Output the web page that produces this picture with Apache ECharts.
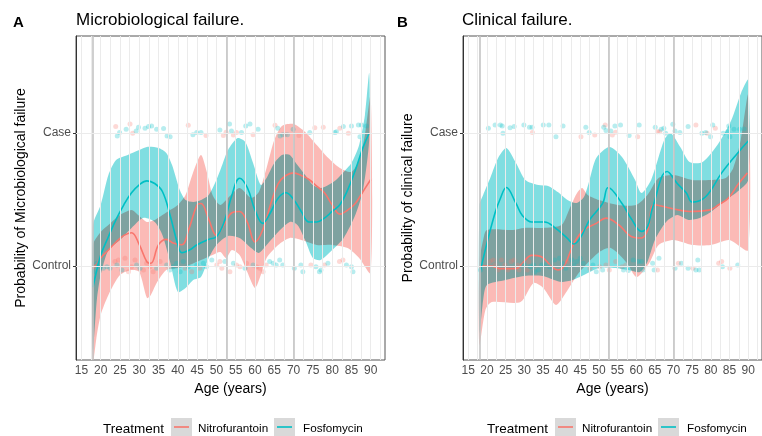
<!DOCTYPE html>
<html><head><meta charset="utf-8">
<script src="https://cdn.jsdelivr.net/npm/echarts@6/dist/echarts.min.js"></script>
<style>html,body{margin:0;padding:0;background:#fff}#c{width:762px;height:436px}</style>
</head><body><div id="c"></div>
<script>
// ---------- data ----------
const xTicks = [15,20,25,30,35,40,45,50,55,60,65,70,75,80,85,90];
const minorGrid = [15,17.5,20,22.5,25,27.5,30,32.5,35,37.5,40,42.5,45,47.5,50,52.5,55,57.5,60,62.5,65,67.5,70,72.5,75,77.5,80,82.5,85,87.5,90,92.5];
const refLines = [18,52.7,70];
const yTickValues = [0,1];
const yTickLabels = ['Control','Case'];
const treatments = ['Nitrofurantoin','Fosfomycin'];

// Panel A: microbiological failure
const A_nitro_line = [[18,-0.02],[20,0.06],[22,0.12],[24,0.18],[26,0.23],[28,0.25],[30,0.16],[32,0.03],[33,0.02],[35,0.16],[37,0.20],[39,0.17],[41,0.16],[43,0.29],[45,0.46],[46,0.47],[48,0.35],[50,0.23],[52,0.31],[54,0.40],[56,0.41],[58,0.33],[60,0.18],[62,0.27],[64,0.46],[66,0.62],[68,0.68],[70,0.70],[72,0.68],[74,0.65],[76,0.60],[78,0.55],[80,0.46],[82,0.39],[84,0.42],[86,0.47],[88,0.56],[90,0.65]];
const A_fosfo_line = [[18,-0.16],[19,-0.03],[20,0.08],[22,0.22],[24,0.35],[26,0.46],[28,0.55],[30,0.61],[32,0.64],[34,0.62],[36,0.56],[38,0.38],[40,0.16],[41,0.10],[43,0.12],[45,0.16],[48,0.20],[50,0.22],[52,0.33],[54,0.53],[56,0.66],[58,0.59],[60,0.42],[62,0.32],[64,0.40],[66,0.51],[68,0.55],[70,0.50],[72,0.41],[74,0.33],[76,0.33],[78,0.36],[80,0.41],[82,0.46],[84,0.57],[86,0.72],[88,0.89],[89.6,1.0]];
const A_nitro_upper = [[18,0.158],[20,0.256],[22,0.308],[25,0.383],[28,0.421],[30,0.376],[32,0.331],[34,0.346],[36,0.383],[38,0.421],[40,0.459],[42,0.534],[44,0.707],[46,0.835],[47.5,0.707],[49,0.534],[51,0.459],[53,0.511],[56,0.586],[59,0.511],[61,0.556],[63,0.737],[65,0.947],[67,1.053],[70,1.068],[73,1.008],[76,0.910],[79,0.812],[82,0.737],[85,0.707],[87,0.797],[88.5,0.985],[90,1.286]];
const A_nitro_lower = [[18,-0.722],[19,-0.519],[20,-0.368],[22,-0.218],[25,-0.068],[28,-0.030],[30,-0.045],[32,-0.241],[33,-0.218],[34.5,-0.128],[37,-0.030],[40,-0.015],[43,0.008],[46,0.045],[49,0.083],[51,0.105],[52.5,0.060],[54,0.120],[56,0.083],[58,-0.045],[60,-0.165],[61.5,-0.068],[63,0.060],[66,0.158],[69,0.211],[72,0.195],[76,0.158],[80,0.158],[84,0.135],[87,0.060],[90,-0.053]];
const A_fosfo_upper = [[18,0.308],[20,0.459],[22,0.684],[24,0.797],[27,0.835],[30,0.872],[32,0.895],[35,0.887],[37,0.850],[38.5,0.759],[40.5,0.571],[42,0.496],[44,0.481],[46,0.496],[48,0.534],[50,0.647],[51.5,0.759],[53,0.872],[55.5,0.962],[57.5,0.932],[59.5,0.774],[61.5,0.609],[63,0.662],[65,0.774],[67,0.835],[69,0.835],[71,0.759],[73,0.684],[75,0.609],[77,0.586],[79,0.609],[81,0.647],[83,0.707],[85,0.774],[87,0.910],[88.5,1.135],[89.6,1.451]];
const A_fosfo_lower = [[18,-0.632],[19,-0.256],[20,-0.068],[22,0.120],[25,0.195],[28,0.286],[31,0.361],[34,0.331],[36,0.233],[38,0.030],[40,-0.195],[42,-0.165],[44,-0.105],[46,-0.083],[48,0.060],[50,0.158],[53,0.226],[56,0.211],[59,0.135],[61,0.098],[63,0.158],[66,0.256],[69,0.331],[71,0.308],[73,0.195],[75,0.060],[77,0.045],[80,0.120],[83,0.211],[86,0.383],[88,0.571],[89.6,0.947]];
const A_nitro_pts = [[23.9,1.048],[27.6,1.068],[28.3,0.997],[42.7,1.058],[47.3,0.98],[51.8,0.98],[52.5,1.005],[54.4,0.985],[55.2,1.003],[59.5,0.987],[65.2,1.058],[67.8,0.987],[71.4,0.98],[75.5,1.04],[77.7,1.043],[82.0,1.035],[84.2,0.997],
 [23.7,0.033],[24.6,0.045],[26.3,0.058],[27.2,-0.043],[28.0,-0.005],[28.9,0.045],[31.1,-0.03],[31.9,0.02],[32.8,-0.005],[33.6,-0.043],[35.4,0.033],[41.9,-0.018],[43.6,-0.043],[45.7,-0.018],[50.1,0.008],[50.9,0.033],[51.4,-0.018],[53.5,-0.043],[55.2,0.008],[56.1,-0.005],[57.8,0.02],[60.4,-0.005],[61.2,-0.018],[62.1,-0.043],[62.9,0.008],[74.5,0.008],[78.0,0.008],[81.9,0.033],[82.8,0.045]];
const A_fosfo_pts = [[24.3,0.977],[24.9,1.003],[26.6,1.028],[29.2,1.015],[29.8,1.043],[31.5,1.035],[32.4,1.048],[33.2,1.053],[34.5,1.028],[36.3,1.033],[37.2,0.977],[38.0,0.972],[43.9,0.987],[44.9,1.003],[46.0,1.003],[50.9,1.023],[53.4,1.068],[53.9,1.015],[56.5,1.003],[57.6,1.053],[58.7,1.068],[60.8,1.028],[65.9,1.035],[66.5,0.977],[67.2,0.987],[68.4,0.987],[69.9,1.028],[74.2,1.003],[80.7,1.003],[81.1,1.010],[82.9,1.048],[85.0,1.053],[86.8,1.06],[87.2,0.972],[87.6,1.06],[88.9,1.053],
 [18.1,-0.043],[19.0,0.02],[19.8,-0.005],[20.7,-0.018],[21.6,-0.005],[22.4,-0.018],[24.2,0.008],[25.5,-0.03],[29.3,0.008],[30.2,-0.018],[34.5,-0.018],[37.1,0.008],[37.9,-0.03],[38.8,-0.005],[39.7,0.02],[40.6,-0.043],[41.4,0.033],[42.7,-0.005],[44.9,0.008],[46.6,0.02],[47.4,-0.005],[48.8,0.045],[52.2,0.033],[54.4,0.02],[57.4,-0.018],[59.5,0.008],[63.8,0.033],[64.7,0.02],[65.5,0.008],[66.4,0.045],[67.2,0.008],[70.2,-0.018],[71.9,0.008],[72.4,-0.043],[75.8,-0.005],[76.7,-0.043],[77.1,-0.03],[78.9,0.02],[83.7,0.008],[85.0,-0.005],[85.4,-0.043]];

// Panel B: clinical failure
const B_nitro_line = [[18.3,0.0],[20.9,0.0],[23.5,-0.02],[27.8,-0.02],[29.5,0.02],[32,0.08],[34.6,0.07],[37.2,0.0],[39,-0.03],[40.7,0.0],[43.3,0.17],[45.9,0.27],[49.3,0.32],[51.9,0.36],[55.3,0.31],[58.8,0.22],[61.4,0.21],[63.1,0.27],[64.8,0.46],[68.3,0.44],[74.3,0.41],[79.5,0.42],[82.1,0.46],[84.7,0.51],[87.2,0.61],[89.8,0.70]];
const B_fosfo_line = [[18.3,-0.03],[20,0.17],[22.2,0.40],[23.5,0.50],[25.2,0.59],[27.8,0.47],[29.5,0.38],[32,0.33],[35.5,0.33],[38.1,0.29],[41.5,0.21],[43.3,0.165],[45,0.21],[47.6,0.35],[51,0.47],[52.5,0.59],[56.2,0.47],[58.8,0.35],[61.4,0.26],[63.1,0.30],[64.4,0.44],[68.3,0.71],[71,0.62],[73.4,0.55],[75,0.48],[78.6,0.52],[82.9,0.70],[87.2,0.85],[90,0.94]];
const B_nitro_upper = [[18,0.030],[19,0.195],[20,0.271],[27,0.271],[30,0.286],[35,0.286],[40,0.308],[42,0.421],[44,0.541],[45.5,0.586],[47,0.534],[50,0.496],[55,0.459],[60,0.459],[63,0.534],[66,0.662],[70,0.684],[75,0.647],[80,0.647],[84,0.662],[86,0.737],[88,0.947],[90,1.286]];
const B_nitro_lower = [[18,-0.594],[19.6,-0.331],[21.3,-0.271],[29,-0.271],[32.5,-0.128],[35.1,-0.165],[38.5,-0.293],[41.1,-0.203],[44.6,-0.053],[49.8,0.098],[53.2,0.135],[57.5,0.023],[60.1,-0.083],[63.5,0.023],[66,0.158],[70,0.195],[75,0.158],[80,0.158],[85,0.195],[90,0.120]];
const B_fosfo_upper = [[18,0.459],[19,0.534],[21,0.669],[23,0.812],[25.2,0.887],[27.8,0.774],[30.3,0.647],[33.8,0.609],[36.4,0.602],[39,0.556],[41.6,0.496],[44,0.474],[46,0.519],[47.5,0.647],[49.3,0.812],[52.8,0.895],[56.2,0.820],[59.7,0.647],[61.4,0.549],[64,0.647],[67.5,0.947],[69.2,1.0],[71.8,0.895],[74.3,0.782],[77.8,0.782],[82.1,0.925],[85.5,1.098],[88.1,1.301],[90,1.398]];
const B_fosfo_lower = [[18,-0.504],[19,-0.256],[20,-0.143],[25,-0.105],[30,-0.075],[35,-0.075],[38,-0.105],[40,-0.120],[43,-0.105],[46,-0.068],[50,-0.015],[54,-0.015],[58,-0.030],[61,-0.045],[63,0.030],[65,0.195],[68,0.331],[71,0.383],[74,0.346],[77,0.361],[80,0.406],[84,0.496],[87,0.556],[90,0.647]];
const B_nitro_pts = [[32.2,1.003],[45.2,0.972],[48.9,0.985],[51.7,1.06],[53.6,0.985],[54.5,1.005],[60.4,0.972],[65.7,1.010],[66.3,1.010],[76.0,1.06],[79.0,0.997],[81.2,1.035],
 [20.9,0.033],[21.7,0.045],[22.2,0.008],[23.0,-0.03],[23.9,0.045],[24.8,0.008],[25.6,-0.03],[26.5,0.033],[27.3,0.045],[28.2,0.008],[28.6,-0.03],[30.8,-0.03],[31.2,0.033],[41.5,0.033],[47.6,-0.018],[50.2,-0.005],[51.9,0.008],[52.8,-0.03],[54.5,0.033],[56.2,-0.005],[57.2,0.008],[65.7,-0.03],[71.3,0.02],[75.2,-0.018],[82.1,0.02],[82.9,0.033],[85.1,-0.018]];
const B_fosfo_pts = [[20.4,1.035],[22.2,1.06],[23.6,1.06],[24.1,1.053],[24.3,0.997],[26.2,1.040],[27.3,1.048],[29.9,1.06],[31.4,1.043],[32.1,1.043],[35.1,1.06],[36.6,1.06],[38.5,0.972],[40.4,1.053],[46.5,1.043],[47.4,1.003],[51.3,1.043],[51.9,1.018],[53.2,1.015],[54.3,1.053],[55.8,1.06],[58.1,0.98],[60.8,1.06],[65.1,1.043],[66.7,1.028],[67.4,1.035],[67.9,0.997],[69.8,1.065],[70.4,1.015],[71.7,1.003],[73.9,1.048],[77.6,0.997],[78.6,1.003],[79.9,0.972],[80.5,1.06],[83.3,0.997],[84.5,1.01],[84.8,1.053],[85.1,0.972],[86.2,1.028],[87.7,1.028],[88.9,1.030],
 [18.3,-0.03],[29.9,0.008],[31.6,-0.005],[32.5,0.008],[32.9,-0.043],[33.8,-0.03],[34.7,0.008],[35.5,0.008],[36.8,-0.005],[38.1,0.045],[39.4,0.058],[40.3,0.02],[41.1,-0.018],[42.8,0.045],[43.3,0.008],[44.1,0.033],[45.0,0.058],[45.8,0.02],[48.4,0.008],[49.3,-0.043],[51.0,-0.03],[56.6,-0.03],[57.9,-0.035],[59.2,0.045],[60.5,0.033],[61.4,0.033],[61.8,-0.03],[64.4,0.02],[64.8,-0.03],[66.1,0.058],[70.4,-0.018],[72.1,0.02],[73.9,-0.018],[76.0,-0.03],[76.5,0.045],[76.9,-0.03],[83.1,-0.005],[87.2,0.008]];

// ---------- styling ----------
const FONT = '"Liberation Sans", Arial, sans-serif';
const RED = '#F8766D', CYAN = '#00BFC4';
const RED_FILL = 'rgb(251,186,182)', CYAN_FILL = 'rgb(128,222,225)';
const RED_PT = 'rgba(248,118,109,0.35)', CYAN_PT = 'rgba(0,191,196,0.35)';
const grids = [
  {left:76, top:36, width:309, height:324},
  {left:463, top:36, width:309, height:324}
];
const yNames = ['Probability of Microbiological failure','Probability of clinical failure'];

function gridSeries(i){
  return {type:'line', xAxisIndex:i, yAxisIndex:i, data:[[50,0.5]], showSymbol:false, lineStyle:{width:0}, silent:true, z:1,
    markLine:{silent:true, symbol:'none', label:{show:false}, animation:false,
      data: minorGrid.map(v=>({xAxis:v, lineStyle:{color:'#ebebeb', width:1, type:'solid'}}))
        .concat(refLines.map(v=>({xAxis:v, lineStyle:{color:'#c4c4c4', width:1.6, type:'solid'}})))
        .concat(yTickValues.map(v=>({yAxis:v, lineStyle:{color:'#ebebeb', width:1, type:'solid'}})))
    }};
}
function bandSeries(i, upper, lower, fill){
  return {type:'custom', xAxisIndex:i, yAxisIndex:i, clip:true, silent:true, z:2, data:[[50,0.5]],
    renderItem:function(params, api){
      if (params.dataIndex !== 0) return;
      const pts = upper.map(p=>api.coord(p)).concat(lower.slice().reverse().map(p=>api.coord(p)));
      return {type:'polygon', name:'band', shape:{points:pts, smooth:0.25}, style:{fill:fill, blend:'multiply'}};
    }};
}
function lineSeries(i, name, data, color){
  return {type:'line', name:name, xAxisIndex:i, yAxisIndex:i, data:data, smooth:0.4, showSymbol:false, silent:true, z:2,
    lineStyle:{color:color, width:1.6}, itemStyle:{color:color}};
}
function ptSeries(i, data, color){
  return {type:'scatter', xAxisIndex:i, yAxisIndex:i, data:data, symbolSize:5, silent:true, z:2,
    itemStyle:{color:color}};
}

const series = [];
[[A_nitro_pts, A_fosfo_pts, A_nitro_upper, A_nitro_lower, A_nitro_line, A_fosfo_upper, A_fosfo_lower, A_fosfo_line],
 [B_nitro_pts, B_fosfo_pts, B_nitro_upper, B_nitro_lower, B_nitro_line, B_fosfo_upper, B_fosfo_lower, B_fosfo_line]].forEach((d,i)=>{
  series.push(gridSeries(i));
  series.push(ptSeries(i, d[0], RED_PT));
  series.push(ptSeries(i, d[1], CYAN_PT));
  series.push(bandSeries(i, d[2], d[3], RED_FILL));
  series.push(lineSeries(i, treatments[0], d[4], RED));
  series.push(bandSeries(i, d[5], d[6], CYAN_FILL));
  series.push(lineSeries(i, treatments[1], d[7], CYAN));
});

const xAxes = [0,1].map(i=>({
  type:'value', gridIndex:i, min:13.6, max:93.7,
  axisLine:{show:true, lineStyle:{color:'#333', width:1}},
  axisTick:{show:true, customValues:xTicks, length:3, lineStyle:{color:'#333'}},
  axisLabel:{customValues:xTicks, color:'#4d4d4d', fontSize:12, fontFamily:FONT, margin:5},
  splitLine:{show:false},
  name:'Age (years)', nameLocation:'middle', nameGap:22,
  nameTextStyle:{color:'#000', fontSize:14, fontFamily:FONT}
}));
const yAxes = [0,1].map(i=>({
  type:'value', gridIndex:i, min:-0.707, max:1.729,
  axisLine:{show:true, lineStyle:{color:'#333', width:1}},
  axisTick:{show:true, customValues:yTickValues, length:3, lineStyle:{color:'#333'}},
  axisLabel:{customValues:yTickValues, color:'#4d4d4d', fontSize:12, fontFamily:FONT, margin:5,
    formatter:v=>yTickLabels[yTickValues.indexOf(Math.round(v))]},
  splitLine:{show:false},
  name:yNames[i], nameLocation:'middle', nameGap:47, nameRotate:90,
  nameTextStyle:{color:'#000', fontSize:14, fontFamily:FONT}
}));

const graphics = [];
const panelTitles = [['A','Microbiological failure.'],['B','Clinical failure.']];
const legendColors = [RED, CYAN];
[0,384].forEach((dx,i)=>{
  graphics.push({type:'text', left:13+dx, top:15, style:{text:panelTitles[i][0], font:'bold 15px '+FONT, fill:'#000'}});
  graphics.push({type:'text', left:(i?462:76), top:12, style:{text:panelTitles[i][1], font:'17px '+FONT, fill:'#000'}});
  graphics.push({type:'text', left:103+dx, top:422, style:{text:'Treatment', font:'13.5px '+FONT, fill:'#000'}});
  const keyX = [171, 274];
  const txtX = [198, 303];
  treatments.forEach((t,k)=>{
    graphics.push({type:'rect', left:keyX[k]+dx, top:418, shape:{width:21, height:18}, style:{fill:'#d9d9d9'}});
    graphics.push({type:'line', shape:{x1:keyX[k]+dx+3, y1:427, x2:keyX[k]+dx+18, y2:427}, style:{stroke:legendColors[k], lineWidth:1.6}});
    graphics.push({type:'text', left:txtX[k]+dx, top:422.5, style:{text:t, font:'11.7px '+FONT, fill:'#000'}});
  });
});

const chart = echarts.init(document.getElementById('c'), null, {renderer:'canvas'});
chart.setOption({
  animation:false,
  backgroundColor:'#fff',
  grid: grids.map(g=>Object.assign({show:true, borderColor:'#555', borderWidth:1, backgroundColor:'#fff'}, g)),
  xAxis:xAxes, yAxis:yAxes, series:series, graphic:graphics
});
// make the confidence ribbons blend like overlapping translucent fills
const zr = chart.getZr();
zr.storage.getDisplayList(true).forEach(el=>{
  if (el.style && (el.style.fill === RED_FILL || el.style.fill === CYAN_FILL) && el.type === 'polygon') {
    el.style.blend = 'multiply';
    el.markRedraw();
  }
});
zr.refreshImmediately();
</script></body></html>
